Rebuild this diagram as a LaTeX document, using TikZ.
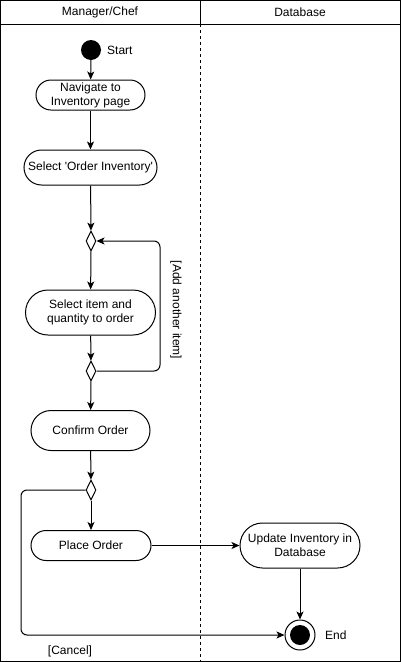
\documentclass[tikz,border=0pt]{standalone}
\usepackage{fontspec}
\setmainfont{Liberation Sans}
\usetikzlibrary{shapes.geometric,arrows.meta}
\begin{document}
\begin{tikzpicture}[x=1pt,y=-1pt,
  font=\fontsize{12}{14}\selectfont,
  lw/.style={line width=1pt},
  act/.style={draw, lw, rectangle, align=center, inner sep=0pt},
  dec/.style={draw, lw, diamond, inner sep=0pt, minimum width=10pt, minimum height=20pt, fill=white},
  flow/.style={lw, -{Stealth[length=8pt,width=7pt,inset=2pt]}},
  lbl/.style={inner sep=0pt}
]
\useasboundingbox (0,0) rectangle (401,662);
% swimlanes
\draw[lw] (0.5,0.5) rectangle (400.5,661.5);
\draw[lw] (0.5,24) -- (400.5,24);
\draw[lw] (200,0.5) -- (200,24);
\draw[lw, dash pattern=on 3pt off 3pt] (200,24) -- (200,661.5);
\node[lbl] (h1) at (100,12.5) {Manager/Chef};
\node[lbl] (h2) at (300,12.5) {Database};

% nodes
\node[circle, fill=black, minimum size=20pt, inner sep=0pt] (start) at (91,50) {};
\node[lbl, anchor=west] (startl) at (107,50) {Start};
\node[act, minimum width=109pt, minimum height=30pt, rounded corners=15pt] (nav) at (90.5,95) {Navigate to\\Inventory page};
\node[act, minimum width=133pt, minimum height=35pt, rounded corners=17.5pt] (sel) at (90.5,167.5) {Select \textquotesingle Order Inventory\textquotesingle};
\node[dec] (d1) at (91,241) {};
\node[act, minimum width=130pt, minimum height=45pt, rounded corners=22.5pt] (item) at (90.5,312.5) {Select item and\\quantity to order};
\node[dec] (d2) at (91,371) {};
\node[act, minimum width=119pt, minimum height=40pt, rounded corners=20pt] (conf) at (90.5,430.5) {Confirm Order};
\node[dec] (d3) at (91,490) {};
\node[act, minimum width=120pt, minimum height=30pt, rounded corners=15pt] (place) at (91,545.5) {Place Order};
\node[act, minimum width=120pt, minimum height=45pt, rounded corners=22.5pt] (upd) at (300,545.5) {Update Inventory in\\Database};
\node[circle, draw, lw, minimum size=30pt, inner sep=0pt] (end) at (300,635) {};
\fill (end.center) circle (10pt);
\node[lbl, anchor=west] (endl) at (325,635) {End};

% loop and cancel corners
\coordinate (lb) at (160,371);
\coordinate (lt) at (160,241);
\coordinate (ct) at (21,490);
\coordinate (cb) at (21,635);

% connectors
\draw[flow] (start) -- (nav);
\draw[flow] (nav) -- (sel);
\draw[flow] (sel) -- (d1);
\draw[flow] (d1) -- (item);
\draw[flow] (item) -- (d2);
\draw[flow] (d2) -- (conf);
\draw[flow] (conf) -- (d3);
\draw[flow] (d3) -- (place);
\draw[flow] (place) -- (upd);
\draw[flow] (upd) -- (end);
\draw[flow, rounded corners=6pt] (d2.east) -- (lb) -- (lt) -- (d1.east);
\draw[flow, rounded corners=6pt] (d3.west) -- (ct) -- (cb) -- (end.west);

\node[lbl, rotate=-90] (addl) at (176,310) {[Add another item]};
\node[lbl] (cancl) at (70,651) {[Cancel]};
\end{tikzpicture}
\end{document}
